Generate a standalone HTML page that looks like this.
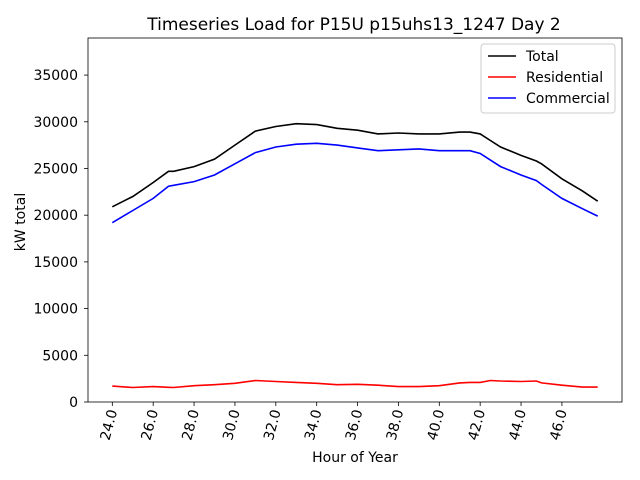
<!DOCTYPE html>
<html><head><meta charset="utf-8"><style>
body{margin:0;background:#fff;}
svg{display:block;font-family:"DejaVu Sans","Liberation Sans",sans-serif;}
</style></head><body>
<svg id="chart" width="640" height="480"></svg>
<script>
const hours=[24,25,26,26.75,27,28,29,30,31,32,33,34,35,36,37,38,39,40,41,41.5,42,42.5,43,44,44.75,45,46,47,47.75];
const totalLoad=[20900,22000,23500,24700,24700,25200,26000,27500,29000,29500,29800,29700,29300,29100,28700,28800,28700,28700,28900,28900,28700,28000,27300,26400,25800,25500,23900,22600,21500];
const residentialLoad=[1700,1550,1650,1570,1550,1750,1850,2000,2300,2200,2100,2000,1850,1900,1800,1650,1650,1750,2050,2100,2100,2300,2250,2200,2250,2050,1800,1600,1600];
const commercialLoad=[19200,20500,21800,23100,23200,23600,24300,25500,26700,27300,27600,27700,27500,27200,26900,27000,27100,26900,26900,26900,26600,25900,25200,24300,23700,23300,21800,20700,19900];
const xTicks=[24,26,28,30,32,34,36,38,40,42,44,46];
const yTicks=[0,5000,10000,15000,20000,25000,30000,35000];

const NS="http://www.w3.org/2000/svg";
const svg=document.getElementById('chart');
const L=88,R=622,T=38,B=402;
const xmin=22.81,xmax=48.94,ymin=0,ymax=38970;
const xs=v=>L+(v-xmin)/(xmax-xmin)*(R-L);
const ys=v=>B-(v-ymin)/(ymax-ymin)*(B-T);
function mk(tag,attrs,txt){const e=document.createElementNS(NS,tag);for(const k in attrs)e.setAttribute(k,attrs[k]);if(txt!==undefined)e.textContent=txt;svg.appendChild(e);return e;}

let e=mk('text',{x:354,y:30,'text-anchor':'middle','font-size':17},'Timeseries Load for P15U p15uhs13_1247  Day 2');



yTicks.forEach(v=>{
  const y=ys(v);
  let t=mk('line',{x1:L-4,x2:L,y1:y,y2:y,stroke:'#000','stroke-width':0.8});
  
  
  let l=mk('text',{x:L-10,y:y+5,'text-anchor':'end','font-size':14},String(v));
  
  
});
xTicks.forEach(v=>{
  const x=xs(v);
  let t=mk('line',{x1:x,x2:x,y1:B,y2:B+4,stroke:'#000','stroke-width':0.8});
  
  
  let l=mk('text',{x:x+5,y:B+9,'text-anchor':'end','font-size':14,transform:`rotate(-75 ${x+5} ${B+9})`},v.toFixed(1));
  
  
});

function series(data,color,name){
  const d=hours.map((h,i)=>(i?'L':'M')+xs(h).toFixed(1)+' '+ys(data[i]).toFixed(1)).join(' ');
  const p=mk('path',{d:d,fill:'none',stroke:color,'stroke-width':1.6});
  
  
}
series(totalLoad,'#000','total-line');
series(residentialLoad,'#f00','residential-line');
series(commercialLoad,'#00f','commercial-line');

e=mk('rect',{x:L,y:T,width:R-L,height:B-T,fill:'none',stroke:'#000','stroke-width':0.8});



e=mk('text',{x:355,y:462,'text-anchor':'middle','font-size':14},'Hour of Year');


e=mk('text',{x:25,y:222,'text-anchor':'middle','font-size':14,transform:'rotate(-90 25 222)'},'kW total');



e=mk('rect',{x:481,y:44,width:134,height:69,fill:'#fff',stroke:'#ccc',rx:3});


[['Total','#000'],['Residential','#f00'],['Commercial','#00f']].forEach((s,i)=>{
  const y=56+i*21;
  let ln=mk('line',{x1:488,x2:516,y1:y,y2:y,stroke:s[1],'stroke-width':1.6});
  
  
  let tx=mk('text',{x:526,y:y+5,'font-size':14},s[0]);
  
  
});
</script>
</body></html>
